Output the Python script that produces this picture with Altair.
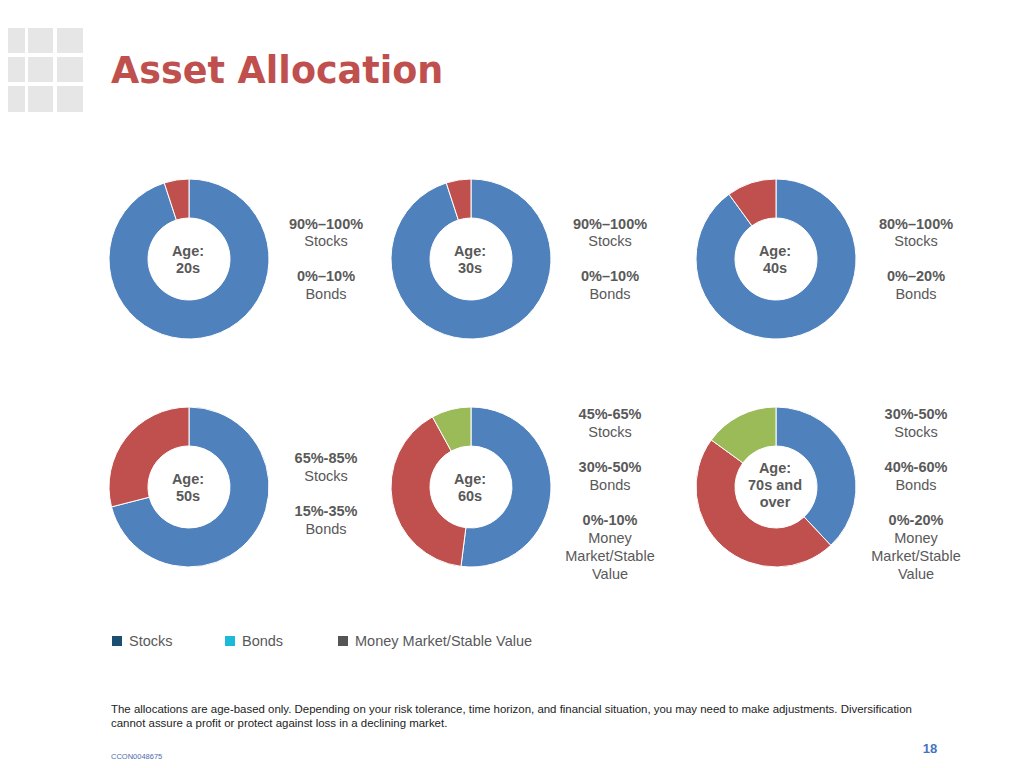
import altair as alt
import pandas as pd

# ---------------- data ----------------
panel_ages = [["Age:", "20s"], ["Age:", "30s"], ["Age:", "40s"],
              ["Age:", "50s"], ["Age:", "60s"], ["Age:", "70s and", "over"]]
assets = ["Stocks", "Bonds", "Money Market/Stable Value"]
stocks = [95, 95, 90, 71, 52, 38]
bonds = [5, 5, 10, 29, 40, 47]
money_market = [0, 0, 0, 0, 8, 15]
stock_ranges = ["90%–100%", "90%–100%", "80%–100%", "65%-85%", "45%-65%", "30%-50%"]
bond_ranges = ["0%–10%", "0%–10%", "0%–20%", "15%-35%", "30%-50%", "40%-60%"]
mm_ranges = [None, None, None, None, "0%-10%", "0%-20%"]
mm_label_lines = ["Money", "Market/Stable", "Value"]
legend_labels = ["Stocks", "Bonds", "Money Market/Stable Value"]
title_text = "Asset Allocation"
footnote_lines = [
    "The allocations are age-based only. Depending on your risk tolerance, time horizon, and financial situation, you may need to make adjustments. Diversification",
    "cannot assure a profit or protect against loss in a declining market.",
]
page_number = "18"
doc_code = "CCON0048675"

# ---------------- styles ----------------
FONT = "Liberation Sans"
GRAY = "#595959"
SLICE_COLORS = ["#4F81BD", "#C0504D", "#9BBB59"]
LEGEND_COLORS = ["#1B4F72", "#1DB9D8", "#555555"]
OFF = 8  # page margin
DY = 1   # small vertical nudge for middle-baseline text


def label(text, x, y, size=14.5, bold=False, color=GRAY, align="center",
          font=FONT, baseline="middle"):
    nudge = DY if baseline == "middle" else 0
    return alt.Chart(pd.DataFrame({"t": [text]})).mark_text(
        align=align, baseline=baseline, font=font, fontSize=size,
        fontWeight="bold" if bold else "normal", color=color
    ).encode(x=alt.value(x - OFF), y=alt.value(y - OFF + nudge), text="t:N")


layers = []

# logo grid
logo_x = [(0, 25), (28, 53), (57, 83)]
logo_y = [(28, 53), (57, 82), (86, 112)]
for (x0, x1) in logo_x:
    for (y0, y1) in logo_y:
        layers.append(
            alt.Chart(pd.DataFrame({"a": [0]})).mark_rect(color="#E6E6E6").encode(
                x=alt.value(max(x0 - OFF, 0)), x2=alt.value(x1 - OFF),
                y=alt.value(y0 - OFF), y2=alt.value(y1 - OFF))
        )

# title
layers.append(label(title_text, 111, 83, size=36.5, bold=True, color="#C0504D",
                    align="left", font="DejaVu Sans", baseline="alphabetic"))

# donuts
centers = [(189, 259), (471, 259), (776, 259), (189, 487), (471, 487), (776, 487)]
color_scale = alt.Scale(domain=assets, range=SLICE_COLORS)
for i, (cx, cy) in enumerate(centers):
    vals = [stocks[i], bonds[i], money_market[i]]
    df = pd.DataFrame({"asset": assets, "value": vals, "idx": [0, 1, 2]})
    df = df[df["value"] > 0]
    layers.append(
        alt.Chart(df).mark_arc(innerRadius=41, outerRadius=80, stroke="white",
                               strokeWidth=1).encode(
            theta=alt.Theta("value:Q", stack=True, scale=alt.Scale(domain=[0, 100])),
            color=alt.Color("asset:N", scale=color_scale, legend=None),
            order=alt.Order("idx:Q"),
            x=alt.value(cx - OFF), y=alt.value(cy - OFF),
        )
    )
    # center label
    lines = panel_ages[i]
    n = len(lines)
    for k, line in enumerate(lines):
        yy = cy - 8 * (n - 1) + k * 17 + (0 if n == 2 else -3)
        layers.append(label(line, cx - 1, yy, size=14.5, bold=True))

# side labels
text_x = [326, 610, 916, 326, 610, 916]
for i in range(6):
    tx = text_x[i]
    if i < 3:
        ys = [224, 241, 276, 294]
    elif i == 3:
        ys = [458, 476, 511, 529]
    else:
        ys = [414, 432, 467, 485]
    layers.append(label(stock_ranges[i], tx, ys[0], bold=True))
    layers.append(label("Stocks", tx, ys[1]))
    layers.append(label(bond_ranges[i], tx, ys[2], bold=True))
    layers.append(label("Bonds", tx, ys[3]))
    if mm_ranges[i] is not None:
        layers.append(label(mm_ranges[i], tx, 520, bold=True))
        for k, line in enumerate(mm_label_lines):
            layers.append(label(line, tx, 538 + 18 * k))

# custom legend
legend_sq_x = [117, 230, 343]
for k in range(3):
    sx = legend_sq_x[k]
    layers.append(
        alt.Chart(pd.DataFrame({"a": [0]})).mark_rect(color=LEGEND_COLORS[k]).encode(
            x=alt.value(sx - 5 - OFF), x2=alt.value(sx + 5 - OFF),
            y=alt.value(636 - OFF), y2=alt.value(646 - OFF))
    )
    layers.append(label(legend_labels[k], sx + 12, 641, align="left"))

# footnote
for k, line in enumerate(footnote_lines):
    layers.append(label(line, 111, 709 + 14 * k, size=11.45, color="#222222",
                        align="left", font=FONT))

layers.append(label(page_number, 930, 748, size=13, bold=True, color="#4472C4"))
layers.append(label(doc_code, 111, 756, size=7.5, color="#4F6BAE", align="left"))

chart = alt.layer(*layers).properties(
    width=1008, height=752, padding=0, autosize="none", background="white"
).configure_view(stroke=None)

chart.save("out.html", embed_options={"renderer": "svg", "actions": False})
